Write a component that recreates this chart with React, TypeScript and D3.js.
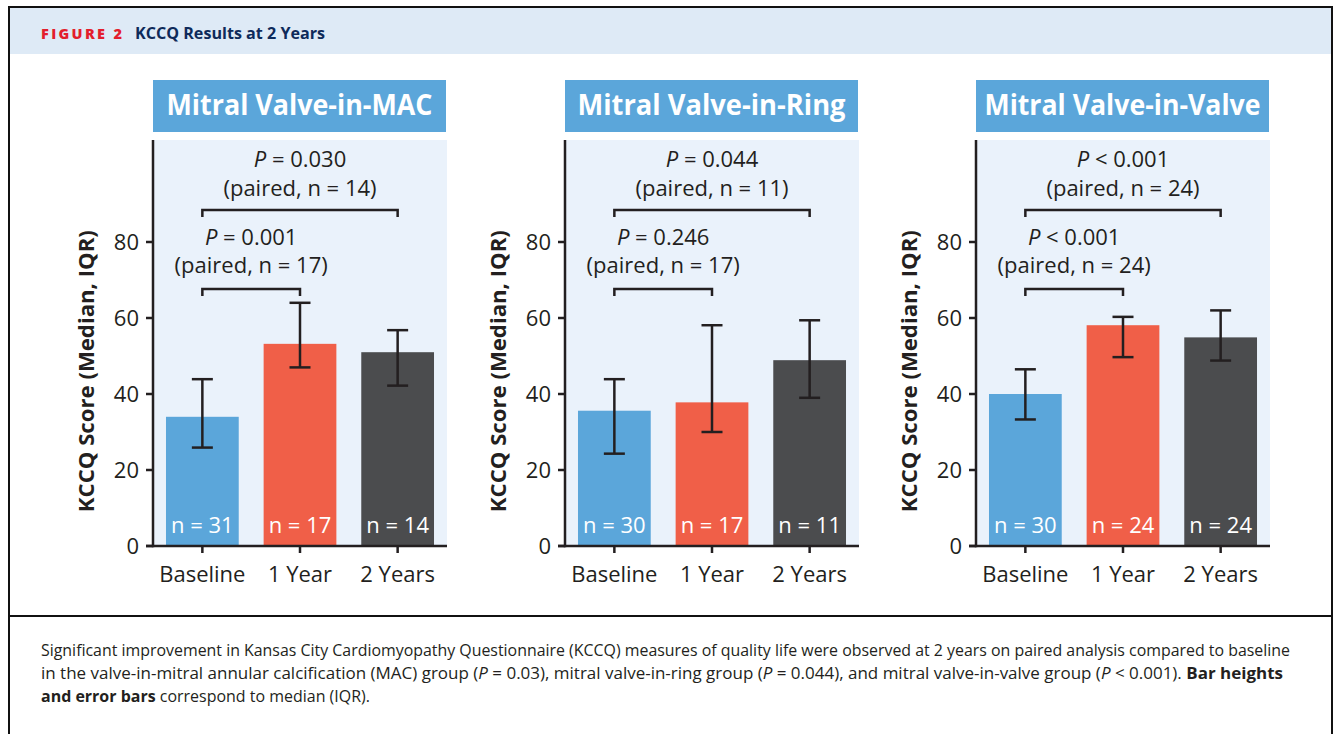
import React from 'react';
import { scaleBand, scaleLinear } from 'd3';

// chart values
const categories = ['Baseline', '1 Year', '2 Years'];
const panelTitles = ['Mitral Valve-in-MAC', 'Mitral Valve-in-Ring', 'Mitral Valve-in-Valve'];
const medians = [
  [34, 53.2, 51],
  [35.6, 37.8, 48.9],
  [40, 58.1, 54.9],
];
const iqrLow = [
  [25.9, 47, 42.2],
  [24.3, 30, 39],
  [33.3, 49.7, 48.8],
];
const iqrHigh = [
  [43.9, 64, 56.8],
  [43.9, 58.1, 59.4],
  [46.5, 60.3, 62],
];
const sampleSizes = [
  [31, 17, 14],
  [30, 17, 11],
  [30, 24, 24],
];
const pYear1 = ['= 0.001', '= 0.246', '< 0.001'];
const nYear1 = [17, 17, 24];
const pYear2 = ['= 0.030', '= 0.044', '< 0.001'];
const nYear2 = [14, 11, 24];
const yTicks = [0, 20, 40, 60, 80];

const barColors = ['#5ba6da', '#f05f48', '#4b4c4e'];
const ink = '#231f20';
const font = "'Open Sans', sans-serif";

const W = 1337;
const H = 734;
const axisX = [153, 565, 976];
const plotW = 294;
const plotTop = 140;

const y = scaleLinear().domain([0, 80]).range([546, 242]);

function Panel({ idx }: { idx: number }) {
  const ax = axisX[idx];
  const x = scaleBand<string>()
    .domain(categories)
    .range([ax, ax + plotW])
    .paddingInner(0.255)
    .paddingOuter(0.133);
  const cx = (c: string) => (x(c) ?? 0) + x.bandwidth() / 2;
  const y0 = y(0);
  const bracketLow = y(67.6);
  const bracketHigh = y(88.4);
  const titleW = [266, 268, 276][idx];

  return (
    <g>
      <rect x={ax} y={80} width={293} height={52} fill="#5ba6da" />
      <text
        x={ax + 146.5}
        y={115}
        textAnchor="middle"
        fontFamily={font}
        fontWeight={700}
        fontSize={28}
        fill="#fff"
        textLength={titleW}
        lengthAdjust="spacingAndGlyphs"
      >
        {panelTitles[idx]}
      </text>

      <rect x={ax} y={plotTop} width={plotW} height={y0 - plotTop} fill="#eaf2fb" />

      {categories.map((c, i) => (
        <g key={c}>
          <rect
            x={x(c)}
            y={y(medians[idx][i])}
            width={x.bandwidth()}
            height={y0 - y(medians[idx][i])}
            fill={barColors[i]}
          />
          <text
            x={cx(c)}
            y={533}
            textAnchor="middle"
            fontFamily={font}
            fontWeight={500}
            fontSize={22}
            fill="#fff"
          >
            n = {sampleSizes[idx][i]}
          </text>
          <g stroke={ink} strokeWidth={2.5} fill="none">
            <line x1={cx(c)} x2={cx(c)} y1={y(iqrLow[idx][i])} y2={y(iqrHigh[idx][i])} />
            <line x1={cx(c) - 10.5} x2={cx(c) + 10.5} y1={y(iqrLow[idx][i])} y2={y(iqrLow[idx][i])} />
            <line x1={cx(c) - 10.5} x2={cx(c) + 10.5} y1={y(iqrHigh[idx][i])} y2={y(iqrHigh[idx][i])} />
          </g>
          <line x1={cx(c)} x2={cx(c)} y1={y0} y2={y0 + 7} stroke={ink} strokeWidth={2.5} />
          <text
            x={cx(c)}
            y={582}
            textAnchor="middle"
            fontFamily={font}
            fontWeight={500}
            fontSize={22}
            fill={ink}
          >
            {c}
          </text>
        </g>
      ))}

      {/* axes */}
      <line x1={ax} x2={ax} y1={plotTop} y2={y0 + 1.25} stroke={ink} strokeWidth={2.5} />
      <line x1={ax - 7} x2={ax + plotW} y1={y0} y2={y0} stroke={ink} strokeWidth={2.5} />
      {yTicks.map((t) => (
        <g key={t}>
          <line x1={ax - 7} x2={ax} y1={y(t)} y2={y(t)} stroke={ink} strokeWidth={2.5} />
          <text
            x={ax - 14}
            y={y(t)}
            dy="0.36em"
            textAnchor="end"
            fontFamily={font}
            fontWeight={500}
            fontSize={22}
            fill={ink}
          >
            {t}
          </text>
        </g>
      ))}
      <text
        transform={`translate(${ax - 59},${y(46)}) rotate(-90)`}
        textAnchor="middle"
        fontFamily={font}
        fontWeight={700}
        fontSize={22}
        fill={ink}
        textLength={282}
        lengthAdjust="spacingAndGlyphs"
      >
        KCCQ Score (Median, IQR)
      </text>

      {/* significance brackets */}
      <path
        d={`M${cx(categories[0])},${bracketLow + 7}V${bracketLow}H${cx(categories[1])}V${bracketLow + 7}`}
        fill="none"
        stroke={ink}
        strokeWidth={2.5}
      />
      <path
        d={`M${cx(categories[0])},${bracketHigh + 7}V${bracketHigh}H${cx(categories[2])}V${bracketHigh + 7}`}
        fill="none"
        stroke={ink}
        strokeWidth={2.5}
      />
      <g fontFamily={font} fontWeight={500} fontSize={22} fill={ink} textAnchor="middle">
        <text x={(cx(categories[0]) + cx(categories[1])) / 2} y={bracketLow - 44}>
          <tspan fontStyle="italic">P</tspan> {pYear1[idx]}
        </text>
        <text x={(cx(categories[0]) + cx(categories[1])) / 2} y={bracketLow - 16}>
          (paired, n = {nYear1[idx]})
        </text>
        <text x={(cx(categories[0]) + cx(categories[2])) / 2} y={bracketHigh - 43}>
          <tspan fontStyle="italic">P</tspan> {pYear2[idx]}
        </text>
        <text x={(cx(categories[0]) + cx(categories[2])) / 2} y={bracketHigh - 14}>
          (paired, n = {nYear2[idx]})
        </text>
      </g>
    </g>
  );
}

export default function App() {
  return (
    <div style={{ position: 'absolute', left: 0, top: 0 }}>
      <svg width={W} height={H} style={{ display: 'block', background: '#fff' }}>
        <rect x={9} y={8} width={1323} height={46} fill="#deeaf6" />
        <rect x={9} y={7} width={1323} height={740} fill="none" stroke="#111" strokeWidth={2} />
        <text
          x={41}
          y={39}
          fontFamily={font}
          fontWeight={800}
          fontSize={14.5}
          fill="#e31e2d"
          textLength={81}
          lengthAdjust="spacing"
        >
          FIGURE 2
        </text>
        <text
          x={135}
          y={39}
          fontFamily={font}
          fontWeight={700}
          fontSize={16}
          fill="#0e2a5a"
          textLength={190}
          lengthAdjust="spacingAndGlyphs"
        >
          KCCQ Results at 2 Years
        </text>

        {panelTitles.map((_, i) => (
          <Panel key={i} idx={i} />
        ))}

        <line x1={9} x2={1332} y1={616} y2={616} stroke="#111" strokeWidth={2} />
        <g fontFamily={font} fontSize={16.5} fill={ink}>
          <text x={41} y={656} textLength={1249} lengthAdjust="spacingAndGlyphs">
            Significant improvement in Kansas City Cardiomyopathy Questionnaire (KCCQ) measures of quality life were observed at 2 years on paired analysis compared to baseline
          </text>
          <text x={41} y={679} textLength={1242} lengthAdjust="spacingAndGlyphs">
            in the valve-in-mitral annular calcification (MAC) group (<tspan fontStyle="italic">P</tspan> = 0.03), mitral valve-in-ring group (<tspan fontStyle="italic">P</tspan> = 0.044), and mitral valve-in-valve group (<tspan fontStyle="italic">P</tspan> &lt; 0.001). <tspan fontWeight={700}>Bar heights</tspan>
          </text>
          <text x={41} y={702} textLength={329} lengthAdjust="spacingAndGlyphs">
            <tspan fontWeight={700}>and error bars</tspan> correspond to median (IQR).
          </text>
        </g>
      </svg>
    </div>
  );
}
